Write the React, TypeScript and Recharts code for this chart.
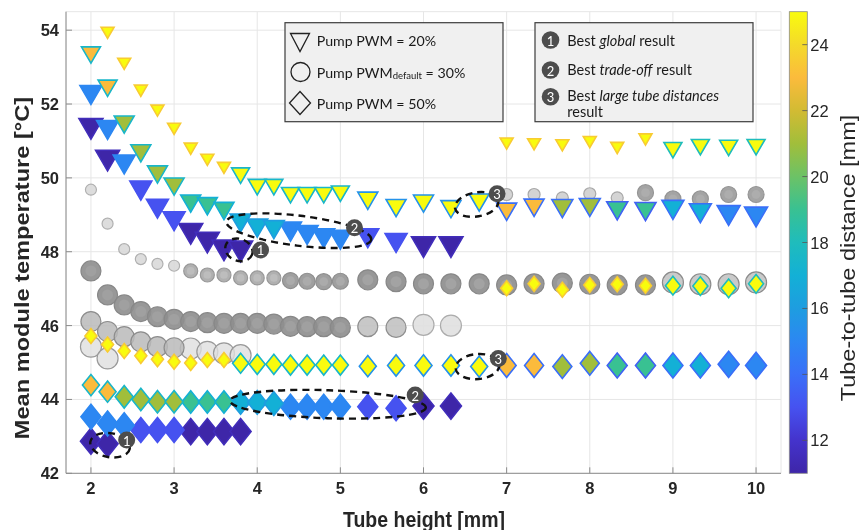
import React from 'react';
import { ScatterChart, Scatter, XAxis, YAxis, CartesianGrid, ReferenceDot } from 'recharts';

// ---- tube-to-tube distance colour scale (parula) ----
const DIST_MIN = 11;
const DIST_MAX = 25;
const DIST_TICKS = [12, 14, 16, 18, 20, 22, 24];
const PARULA_D = [11, 12, 13, 14, 15, 16, 17, 18, 19, 20, 21, 22, 23, 24, 25];
const PARULA_C = ['#3e26a8', '#4433cc', '#4652f0', '#3a6ff8', '#2c87f2', '#1e9de0', '#13b0d6', '#1fbcbc', '#39c192',
  '#6cc266', '#a1be3b', '#d2bb33', '#fbbb3c', '#f4da2a', '#f9fb0e'];

const X_TICKS = [2, 3, 4, 5, 6, 7, 8, 9, 10];
const Y_TICKS = [42, 44, 46, 48, 50, 52, 54];

// ---- Pump PWM = 20 % (triangles) ----
const T_YEL_A_X = [2.2, 2.4, 2.6, 2.8, 3.0, 3.2, 3.4, 3.6];
const T_YEL_A_Y = [53.98, 53.14, 52.41, 51.87, 51.38, 50.84, 50.54, 50.32];
const T_YEL_B_X = [3.8, 4.0, 4.2, 4.4, 4.6, 4.8, 5.0];
const T_YEL_B_Y = [50.13, 49.82, 49.82, 49.6, 49.6, 49.6, 49.64];
const T_YEL_C_X = [5.33, 5.67, 6.0, 6.33, 6.67];
const T_YEL_C_Y = [49.46, 49.26, 49.38, 49.23, 49.41];
const T_YEL_D_X = [7.0, 7.33, 7.67, 8.0, 8.33, 8.67];
const T_YEL_D_Y = [50.98, 50.96, 50.93, 51.02, 50.86, 51.09];
const T_YEL_E_X = [9.0, 9.33, 9.67, 10.0];
const T_YEL_E_Y = [50.82, 50.9, 50.88, 50.9];
const T_ORA_X = [2.0, 2.2];
const T_ORA_Y = [53.4, 52.5];
const T_OLI_X = [2.4, 2.6, 2.8, 3.0];
const T_OLI_Y = [51.52, 50.74, 50.17, 49.84];
const T_TEA_X = [3.2, 3.4, 3.6];
const T_TEA_Y = [49.38, 49.31, 49.18];
const T_CYA_X = [3.8, 4.0, 4.2];
const T_CYA_Y = [48.86, 48.72, 48.68];
const T_BLU_X = [2.0, 2.2, 2.4, 4.4, 4.6, 4.8, 5.0];
const T_BLU_Y = [52.33, 51.38, 50.45, 48.63, 48.54, 48.45, 48.41];
const T_PBL_X = [2.6, 2.8, 3.0, 5.33, 5.67];
const T_PBL_Y = [49.74, 49.25, 48.91, 48.45, 48.32];
const T_DPU_X = [2.0, 2.2, 3.2, 3.4, 3.6, 3.8, 6.0, 6.33];
const T_DPU_Y = [51.42, 50.56, 48.58, 48.34, 48.13, 48.1, 48.22, 48.22];
const T_ORA7_X = [7.0, 7.33];
const T_ORA7_Y = [49.16, 49.27];
const T_OLI7_X = [7.67, 8.0];
const T_OLI7_Y = [49.25, 49.28];
const T_TEA7_X = [8.33, 8.67];
const T_TEA7_Y = [49.19, 49.17];
const T_CYA7_X = [9.0, 9.33];
const T_CYA7_Y = [49.22, 49.13];
const T_BLU7_X = [9.67, 10.0];
const T_BLU7_Y = [49.07, 49.03];

// ---- Pump PWM default = 30 % (grey circles) ----
const C_UP_S_X = [7.0, 7.33, 7.67, 8.0, 8.33];
const C_UP_S_Y = [49.55, 49.55, 49.46, 49.57, 49.46];
const C_UP_B_X = [8.67, 9.0, 9.33, 9.67, 10.0];
const C_UP_B_Y = [49.6, 49.43, 49.43, 49.55, 49.55];
const C_SML_X = [2.0, 2.2, 2.4, 2.6, 2.8, 3.0];
const C_SML_Y = [49.68, 48.76, 48.07, 47.8, 47.67, 47.62];
const C_MED_X = [3.2, 3.4, 3.6, 3.8, 4.0, 4.2];
const C_MED_Y = [47.48, 47.37, 47.37, 47.29, 47.29, 47.29];
const C_RNA_X = [4.4, 4.6, 4.8, 5.0];
const C_RNA_Y = [47.22, 47.2, 47.19, 47.2];
const C_RNB_X = [5.33, 5.67, 6.0, 6.33, 6.67, 7.0, 7.33, 7.67, 8.0, 8.33, 8.67];
const C_RNB_Y = [47.24, 47.19, 47.13, 47.13, 47.13, 47.1, 47.13, 47.15, 47.12, 47.1, 47.1];
const C_RNC_X = [9.0, 9.33, 9.67, 10.0];
const C_RNC_Y = [47.17, 47.12, 47.12, 47.17];
const C_R2_X = [2.0, 2.2, 2.4, 2.6, 2.8, 3.0, 3.2, 3.4, 3.6, 3.8, 4.0, 4.2, 4.4, 4.6, 4.8, 5.0];
const C_R2_Y = [47.48, 46.83, 46.56, 46.38, 46.24, 46.17, 46.11, 46.08, 46.06, 46.06, 46.06, 46.04, 45.98, 45.97, 45.97, 45.95];
const C_R2M_X = [5.33, 5.67];
const C_R2M_Y = [45.97, 45.95];
const C_R2L_X = [6.0, 6.33];
const C_R2L_Y = [46.02, 46.0];
const C_R3_X = [2.0, 2.2, 2.4, 2.6, 2.8, 3.0];
const C_R3_Y = [46.11, 45.84, 45.7, 45.56, 45.43, 45.4];
const C_R4_X = [2.0, 2.2, 3.2, 3.4, 3.6, 3.8];
const C_R4_Y = [45.43, 45.11, 45.38, 45.29, 45.25, 45.2];

// ---- Pump PWM = 50 % (diamonds) ----
const D_YEL_A_X = [2.0, 2.2, 2.4, 2.6, 2.8, 3.0, 3.2, 3.4, 3.6];
const D_YEL_A_Y = [45.72, 45.49, 45.31, 45.18, 45.09, 45.02, 44.99, 45.07, 45.07];
const D_YEL_B_X = [3.8, 4.0, 4.2, 4.4, 4.6, 4.8, 5.0];
const D_YEL_B_Y = [44.98, 44.95, 44.95, 44.93, 44.93, 44.93, 44.93];
const D_YEL_C_X = [5.33, 5.67, 6.0, 6.33, 6.67];
const D_YEL_C_Y = [44.9, 44.92, 44.92, 44.92, 44.89];
const D_YEL_D_X = [7.0, 7.33, 7.67, 8.0, 8.33, 8.67];
const D_YEL_D_Y = [47.01, 47.13, 46.97, 47.1, 47.12, 47.08];
const D_YEL_E_X = [9.0, 9.33, 9.67, 10.0];
const D_YEL_E_Y = [47.08, 47.07, 47.01, 47.13];
const D_ORA_X = [2.0, 2.2];
const D_ORA_Y = [44.39, 44.21];
const D_OLI_X = [2.4, 2.6, 2.8, 3.0];
const D_OLI_Y = [44.07, 44.0, 43.94, 43.94];
const D_TEA_X = [3.2, 3.4, 3.6];
const D_TEA_Y = [43.93, 43.93, 43.93];
const D_CYA_X = [3.8, 4.0, 4.2];
const D_CYA_Y = [43.92, 43.92, 43.89];
const D_BLU_X = [2.0, 2.2, 2.4, 4.4, 4.6, 4.8, 5.0];
const D_BLU_Y = [43.53, 43.35, 43.3, 43.8, 43.8, 43.8, 43.8];
const D_PBL_X = [2.6, 2.8, 3.0, 5.33, 5.67];
const D_PBL_Y = [43.17, 43.17, 43.17, 43.8, 43.76];
const D_DPU_X = [2.0, 2.2, 3.2, 3.4, 3.6, 3.8, 6.0, 6.33];
const D_DPU_Y = [42.87, 42.8, 43.13, 43.13, 43.13, 43.13, 43.82, 43.82];
const D_ORA7_X = [7.0, 7.33];
const D_ORA7_Y = [44.92, 44.92];
const D_OLI7_X = [7.67, 8.0];
const D_OLI7_Y = [44.89, 44.98];
const D_TEA7_X = [8.33, 8.67];
const D_TEA7_Y = [44.92, 44.92];
const D_CYA7_X = [9.0, 9.33];
const D_CYA7_Y = [44.92, 44.92];
const D_BLU7_X = [9.67, 10.0];
const D_BLU7_Y = [44.95, 44.92];

// ---- highlighted results (1 global, 2 trade-off, 3 large tube distances) ----
const HALO_TRI_X = [3.78, 4.5, 6.64];
const HALO_TRI_Y = [48.05, 48.57, 49.28];
const HALO_DIA_X = [2.23, 4.85, 6.65];
const HALO_DIA_Y = [42.76, 43.87, 44.89];
const BADGE_TRI_X = [4.04, 5.17, 6.885];
const BADGE_TRI_Y = [48.05, 48.65, 49.57];
const BADGE_DIA_X = [2.43, 5.9, 6.9];
const BADGE_DIA_Y = [42.9, 44.12, 45.11];

const HALO_TRI_SHAPE = [{ rx: 14, ry: 11, rot: 20 }, { rx: 73, ry: 15, rot: 7 }, { rx: 22, ry: 12, rot: -10 }];
const HALO_DIA_SHAPE = [{ rx: 20, ry: 12, rot: 10 }, { rx: 98, ry: 14, rot: 2 }, { rx: 22, ry: 12.5, rot: -5 }];

const AXIS = '#8c8c8c';
const GRID = '#e6e6e6';
const INK = '#262626';
const FONT = "'Liberation Sans', Arial, Helvetica, sans-serif";
const LEG_FONT = "Lato, 'Open Sans', sans-serif";

const hexToRgb = (h: string) => [1, 3, 5].map(i => parseInt(h.slice(i, i + 2), 16));
const parula = (d: number) => {
  const v = Math.max(DIST_MIN, Math.min(DIST_MAX, d));
  let i = 0;
  while (i < PARULA_D.length - 2 && v > PARULA_D[i + 1]) i++;
  const t = (v - PARULA_D[i]) / (PARULA_D[i + 1] - PARULA_D[i]);
  const a = hexToRgb(PARULA_C[i]);
  const b = hexToRgb(PARULA_C[i + 1]);
  const c = a.map((x, k) => Math.round(x + (b[k] - x) * t));
  return `rgb(${c[0]},${c[1]},${c[2]})`;
};

type Style = {
  kind: 'tri' | 'dia' | 'circ' | 'ring';
  x: number[];
  y: number[];
  w: number;
  dist?: number;
  edgeDist?: number;
  fill?: string;
  edge?: string;
  inner?: string;
  op?: number;
};

const SERIES: Style[] = [
  // circles first (they sit behind)
  { kind: 'circ', x: C_R4_X, y: C_R4_Y, w: 21, fill: '#dedede', edge: '#9a9a9a', op: 0.8 },
  { kind: 'circ', x: C_R3_X, y: C_R3_Y, w: 20, fill: '#bababa', edge: '#8d8d8d', op: 0.85 },
  { kind: 'ring', x: C_R2_X, y: C_R2_Y, w: 20, fill: '#8f8f8f', inner: '#a0a0a0', edge: '#888' },
  { kind: 'circ', x: C_R2M_X, y: C_R2M_Y, w: 20, fill: '#c2c2c2', edge: '#8f8f8f' },
  { kind: 'circ', x: C_R2L_X, y: C_R2L_Y, w: 21, fill: '#e0e0e0', edge: '#acacac' },
  { kind: 'circ', x: C_SML_X, y: C_SML_Y, w: 11, fill: '#d9d9d9', edge: '#b0b0b0' },
  { kind: 'ring', x: C_MED_X, y: C_MED_Y, w: 14, fill: '#a9a9a9', inner: '#bdbdbd', edge: '#999' },
  { kind: 'ring', x: C_RNA_X, y: C_RNA_Y, w: 16, fill: '#979797', inner: '#ababab', edge: '#8e8e8e' },
  { kind: 'ring', x: C_RNB_X, y: C_RNB_Y, w: 20, fill: '#8e8e8e', inner: '#a3a3a3', edge: '#888' },
  { kind: 'circ', x: C_RNC_X, y: C_RNC_Y, w: 21, fill: '#c4c4c4', edge: '#8c8c8c' },
  { kind: 'circ', x: C_UP_S_X, y: C_UP_S_Y, w: 12, fill: '#cfcfcf', edge: '#a8a8a8' },
  { kind: 'ring', x: C_UP_B_X, y: C_UP_B_Y, w: 16, fill: '#9c9c9c', inner: '#adadad', edge: '#959595' },
  // triangles
  { kind: 'tri', x: T_DPU_X, y: T_DPU_Y, w: 24, dist: 11, edgeDist: 11.5 },
  { kind: 'tri', x: T_PBL_X, y: T_PBL_Y, w: 22, dist: 13, edgeDist: 13 },
  { kind: 'tri', x: T_BLU_X, y: T_BLU_Y, w: 22, dist: 15, edgeDist: 15 },
  { kind: 'tri', x: T_CYA_X, y: T_CYA_Y, w: 21, dist: 17, edgeDist: 16 },
  { kind: 'tri', x: T_TEA_X, y: T_TEA_Y, w: 20, dist: 19, edgeDist: 17 },
  { kind: 'tri', x: T_OLI_X, y: T_OLI_Y, w: 20, dist: 21, edgeDist: 17.5 },
  { kind: 'tri', x: T_ORA_X, y: T_ORA_Y, w: 19, dist: 23, edgeDist: 17.5 },
  { kind: 'tri', x: T_BLU7_X, y: T_BLU7_Y, w: 23, dist: 15, edgeDist: 14 },
  { kind: 'tri', x: T_CYA7_X, y: T_CYA7_Y, w: 22, dist: 17, edgeDist: 14 },
  { kind: 'tri', x: T_TEA7_X, y: T_TEA7_Y, w: 21, dist: 19, edgeDist: 13.5 },
  { kind: 'tri', x: T_OLI7_X, y: T_OLI7_Y, w: 21, dist: 21, edgeDist: 14 },
  { kind: 'tri', x: T_ORA7_X, y: T_ORA7_Y, w: 20, dist: 23, edgeDist: 14 },
  { kind: 'tri', x: T_YEL_A_X, y: T_YEL_A_Y, w: 13, dist: 25, edgeDist: 23.5 },
  { kind: 'tri', x: T_YEL_B_X, y: T_YEL_B_Y, w: 18, dist: 25, edgeDist: 17.5 },
  { kind: 'tri', x: T_YEL_C_X, y: T_YEL_C_Y, w: 20, dist: 25, edgeDist: 15.5 },
  { kind: 'tri', x: T_YEL_D_X, y: T_YEL_D_Y, w: 13, dist: 25, edgeDist: 23.5 },
  { kind: 'tri', x: T_YEL_E_X, y: T_YEL_E_Y, w: 18, dist: 25, edgeDist: 18 },
  // diamonds
  { kind: 'dia', x: D_DPU_X, y: D_DPU_Y, w: 21, dist: 11, edgeDist: 11.5 },
  { kind: 'dia', x: D_PBL_X, y: D_PBL_Y, w: 20, dist: 13, edgeDist: 13 },
  { kind: 'dia', x: D_BLU_X, y: D_BLU_Y, w: 20, dist: 15, edgeDist: 15 },
  { kind: 'dia', x: D_CYA_X, y: D_CYA_Y, w: 19, dist: 17, edgeDist: 16 },
  { kind: 'dia', x: D_TEA_X, y: D_TEA_Y, w: 18, dist: 19, edgeDist: 17 },
  { kind: 'dia', x: D_OLI_X, y: D_OLI_Y, w: 18, dist: 21, edgeDist: 17.5 },
  { kind: 'dia', x: D_ORA_X, y: D_ORA_Y, w: 17, dist: 23, edgeDist: 17.5 },
  { kind: 'dia', x: D_BLU7_X, y: D_BLU7_Y, w: 21, dist: 15, edgeDist: 14 },
  { kind: 'dia', x: D_CYA7_X, y: D_CYA7_Y, w: 20, dist: 17, edgeDist: 14 },
  { kind: 'dia', x: D_TEA7_X, y: D_TEA7_Y, w: 20, dist: 19, edgeDist: 13.5 },
  { kind: 'dia', x: D_OLI7_X, y: D_OLI7_Y, w: 19, dist: 21, edgeDist: 14 },
  { kind: 'dia', x: D_ORA7_X, y: D_ORA7_Y, w: 19, dist: 23, edgeDist: 14 },
  { kind: 'dia', x: D_YEL_A_X, y: D_YEL_A_Y, w: 12, dist: 25, edgeDist: 23.5 },
  { kind: 'dia', x: D_YEL_B_X, y: D_YEL_B_Y, w: 16, dist: 25, edgeDist: 17.5 },
  { kind: 'dia', x: D_YEL_C_X, y: D_YEL_C_Y, w: 17, dist: 25, edgeDist: 15.5 },
  { kind: 'dia', x: D_YEL_D_X, y: D_YEL_D_Y, w: 12, dist: 25, edgeDist: 23.5 },
  { kind: 'dia', x: D_YEL_E_X, y: D_YEL_E_Y, w: 15, dist: 25, edgeDist: 18 },
];

const toPoints = (xs: number[], ys: number[]) => xs.map((h, i) => ({ h, t: ys[i] }));

const Marker = ({ cx, cy, s }: { cx?: number; cy?: number; s: Style }) => {
  if (cx == null || cy == null) return null;
  const w = s.w;
  if (s.kind === 'tri' || s.kind === 'dia') {
    const fill = parula(s.dist!);
    const stroke = parula(s.edgeDist ?? s.dist!);
    if (s.kind === 'tri') {
      const h = w * 0.86;
      const top = cy - h / 3;
      const tip = cy + (2 * h) / 3;
      return (
        <polygon points={`${cx - w / 2},${top} ${cx + w / 2},${top} ${cx},${tip}`}
          fill={fill} stroke={stroke} strokeWidth={1.6} strokeLinejoin="miter" />
      );
    }
    const h = w * 1.25;
    return (
      <polygon points={`${cx},${cy - h / 2} ${cx + w / 2},${cy} ${cx},${cy + h / 2} ${cx - w / 2},${cy}`}
        fill={fill} stroke={stroke} strokeWidth={1.6} />
    );
  }
  const r = w / 2;
  if (s.kind === 'ring') {
    return (
      <g>
        <circle cx={cx} cy={cy} r={r} fill={s.fill} stroke={s.edge} strokeWidth={1.2} fillOpacity={0.92} />
        <circle cx={cx} cy={cy} r={r * 0.55} fill={s.inner} />
      </g>
    );
  }
  return <circle cx={cx} cy={cy} r={r} fill={s.fill} stroke={s.edge} strokeWidth={1.2} fillOpacity={s.op ?? 0.9} />;
};

const XTick = ({ x, y, payload }: any) => (
  <g>
    <line x1={x} x2={x} y1={y} y2={y - 6} stroke={AXIS} />
    <text x={x} y={y + 15} textAnchor="middle" dominantBaseline="central" fontFamily={FONT}
      fontWeight="bold" fontSize={16.5} fill={INK}>{payload.value}</text>
  </g>
);

const YTick = ({ x, y, payload }: any) => (
  <g>
    <line x1={x} x2={x + 6} y1={y} y2={y} stroke={AXIS} />
    <text x={x - 7} y={y} textAnchor="end" dominantBaseline="central" fontFamily={FONT}
      fontWeight="bold" fontSize={16.5} fill={INK}>{payload.value}</text>
  </g>
);

const Halo = (shape: { rx: number; ry: number; rot: number }) => (p: any) => (
  <ellipse cx={p.cx} cy={p.cy} rx={shape.rx} ry={shape.ry}
    transform={`rotate(${shape.rot} ${p.cx} ${p.cy})`}
    fill="none" stroke="#111" strokeWidth={2.4} strokeDasharray="7 5" />
);

const Badge = (n: number) => (p: any) => (
  <g>
    <circle cx={p.cx} cy={p.cy} r={8.5} fill="#4d4d4d" />
    <text x={p.cx} y={p.cy + 0.5} textAnchor="middle" dominantBaseline="central" fill="#fff"
      fontFamily={LEG_FONT} fontSize={13}>{n}</text>
  </g>
);

// colour bar geometry (px, in wrapper coordinates)
const CB = { x: 781.3, y: 3.7, w: 18, h: 461.6 };
const cbY = (d: number) => CB.y + ((DIST_MAX - d) / (DIST_MAX - DIST_MIN)) * CB.h;

const Overlay = () => (
  <svg width={858} height={522} style={{ position: 'absolute', left: 0, top: 0, pointerEvents: 'none' }}>
    <defs>
      <linearGradient id="parula" x1="0" y1="1" x2="0" y2="0">
        {PARULA_D.map((d, i) => (
          <stop key={d} offset={(d - DIST_MIN) / (DIST_MAX - DIST_MIN)} stopColor={PARULA_C[i]} />
        ))}
      </linearGradient>
    </defs>
    {/* axis titles */}
    <text transform="translate(416,511) scale(1,1.12)" textAnchor="middle" dominantBaseline="central"
      fontFamily={FONT} fontWeight="bold" fontSize={19.5} fill={INK}>Tube height [mm]</text>
    <text transform="translate(14.5,260) rotate(-90) scale(1.18,1)" textAnchor="middle" dominantBaseline="central"
      fontFamily={FONT} fontWeight="bold" fontSize={20} fill={INK}>Mean module temperature [°C]</text>

    {/* colour bar */}
    <rect x={CB.x} y={CB.y} width={CB.w} height={CB.h} fill="url(#parula)" stroke="#8a8a8a" strokeWidth={0.8} />
    {DIST_TICKS.map(d => (
      <g key={d}>
        <line x1={CB.x + CB.w - 5} x2={CB.x + CB.w} y1={cbY(d)} y2={cbY(d)} stroke="#555" strokeWidth={0.8} />
        <text x={CB.x + CB.w + 3} y={cbY(d)} dominantBaseline="central" fontFamily={FONT} fontSize={16.5} fill={INK}>{d}</text>
      </g>
    ))}
    <text transform="translate(840,250) rotate(-90) scale(1.12,1)" textAnchor="middle" dominantBaseline="central"
      fontFamily={FONT} fontSize={21} fill={INK}>Tube-to-tube distance [mm]</text>

    {/* marker legend */}
    <rect x={277} y={14.7} width={218} height={99} fill="#f0f0f0" stroke="#3c3c3c" strokeWidth={1.2} />
    <polygon points="282.5,25.5 301.5,25.5 292,43.5" fill="none" stroke="#222" strokeWidth={1.3} />
    <circle cx={292.5} cy={64} r={9.5} fill="none" stroke="#222" strokeWidth={1.3} />
    <polygon points="292,83.5 302.5,95 292,106.5 281.5,95" fill="none" stroke="#222" strokeWidth={1.3} />
    <g fontFamily={LEG_FONT} fontSize={14.2} fill="#1a1a1a">
      <text x={308.7} y={32} dominantBaseline="central">Pump PWM = 20%</text>
      <text x={308.7} y={64} dominantBaseline="central">
        Pump PWM<tspan fontSize={9.5} dy={3}>default</tspan><tspan dy={-3}> = 30%</tspan>
      </text>
      <text x={308.7} y={95.3} dominantBaseline="central">Pump PWM = 50%</text>
    </g>

    {/* highlight legend */}
    <rect x={527} y={14.7} width={218} height={99} fill="#f0f0f0" stroke="#3c3c3c" strokeWidth={1.2} />
    {[32, 62, 88.7].map((cy, i) => (
      <g key={i}>
        <circle cx={542.5} cy={cy} r={8.8} fill="#4d4d4d" />
        <text x={542.5} y={cy + 0.5} textAnchor="middle" dominantBaseline="central" fill="#fff"
          fontFamily={LEG_FONT} fontSize={13}>{i + 1}</text>
      </g>
    ))}
    <g fontFamily={LEG_FONT} fontSize={14.5} fill="#1a1a1a">
      <text x={559.3} y={32} dominantBaseline="central">Best <tspan fontStyle="italic">global</tspan> result</text>
      <text x={559.3} y={61.3} dominantBaseline="central">Best <tspan fontStyle="italic">trade-off</tspan> result</text>
      <text x={559.3} y={87} dominantBaseline="central">Best <tspan fontStyle="italic">large tube distances</tspan></text>
      <text x={559.3} y={103.7} dominantBaseline="central">result</text>
    </g>
  </svg>
);

export default function App() {
  return (
    <div style={{ position: 'fixed', left: 8, top: 8, width: 858, height: 522, overflow: 'hidden' }}>
      <ScatterChart width={858} height={522} margin={{ top: 3.7, right: 85, bottom: 26.7, left: 0 }}>
        <CartesianGrid stroke={GRID} />
        <XAxis type="number" dataKey="h" domain={[1.7, 10.3]} ticks={X_TICKS} interval={0}
          allowDataOverflow height={30} tickSize={0} tickMargin={0} tickLine={false}
          axisLine={{ stroke: AXIS }} tick={<XTick />} />
        <YAxis type="number" dataKey="t" domain={[42, 54.5]} ticks={Y_TICKS} interval={0}
          allowDataOverflow width={58} tickSize={0} tickMargin={0} tickLine={false}
          axisLine={{ stroke: AXIS }} tick={<YTick />} />
        {SERIES.map((s, i) => (
          <Scatter key={i} data={toPoints(s.x, s.y)} isAnimationActive={false}
            shape={(p: any) => <Marker cx={p.cx} cy={p.cy} s={s} />} />
        ))}
        {HALO_TRI_X.map((x, i) => (
          <ReferenceDot key={`ht${i}`} x={x} y={HALO_TRI_Y[i]} r={1} shape={Halo(HALO_TRI_SHAPE[i])} />
        ))}
        {HALO_DIA_X.map((x, i) => (
          <ReferenceDot key={`hd${i}`} x={x} y={HALO_DIA_Y[i]} r={1} shape={Halo(HALO_DIA_SHAPE[i])} />
        ))}
        {BADGE_TRI_X.map((x, i) => (
          <ReferenceDot key={`bt${i}`} x={x} y={BADGE_TRI_Y[i]} r={1} shape={Badge(i + 1)} />
        ))}
        {BADGE_DIA_X.map((x, i) => (
          <ReferenceDot key={`bd${i}`} x={x} y={BADGE_DIA_Y[i]} r={1} shape={Badge(i + 1)} />
        ))}
      </ScatterChart>
      <Overlay />
    </div>
  );
}
